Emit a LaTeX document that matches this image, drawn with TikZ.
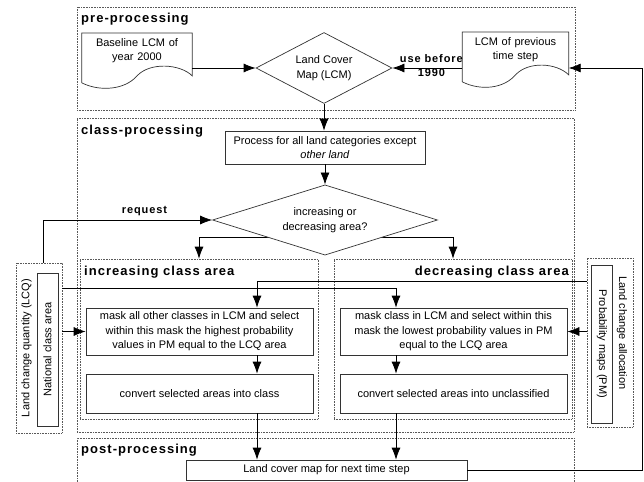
\documentclass[tikz,border=0pt]{standalone}
\usepackage{fontspec}
\setmainfont{Liberation Sans}
\newfontfamily\headfont[LetterSpace=8]{Liberation Sans}
\usetikzlibrary{arrows.meta,shapes.geometric,backgrounds}
\tikzset{>={Latex[length=12pt,width=9pt]}}
\tikzstyle{group} = [rectangle, draw=black!65, densely dotted, line width=0.6pt, inner sep=0pt]
\tikzstyle{heading} = [font=\headfont\bfseries\fontsize{13}{15}\selectfont, inner sep=0pt]
\tikzstyle{note} = [font=\headfont\bfseries\fontsize{11}{14}\selectfont, inner sep=0pt, align=center]
\tikzstyle{doc} = [rectangle, text width=104pt, inner xsep=3pt, inner ysep=5pt, align=center, anchor=north, text depth=31.5pt]
\tikzstyle{decision} = [diamond, draw=black!80, fill=white, aspect=2, inner sep=1pt, align=center, line width=0.7pt]
\tikzstyle{process} = [rectangle, draw=black!80, fill=white, align=center, inner sep=2pt, line width=0.7pt]
\tikzstyle{sidebox} = [rectangle, draw=black!80, minimum height=21pt, inner sep=1pt, line width=0.7pt]
\tikzstyle{arrow} = [->, line width=0.7pt]

\newcommand{\docoutline}[1]{%
  \draw[line width=0.7pt, draw=black!80] (#1.south west) -- (#1.north west) -- (#1.north east)
    -- ([yshift=7pt]#1.south east) .. controls +(-12,-12) and +(13,-14) .. ([yshift=7pt]#1.south)
    .. controls +(-12,14) and +(18,9) .. (#1.south west);}

\begin{document}
\begin{tikzpicture}[x=1pt, y=-1pt, font=\fontsize{11}{14.5}\selectfont]
\useasboundingbox (0,0) rectangle (644,481);
\clip (0,0) rectangle (644,481);

% processing stages
\node (pregrp) [group, minimum width=498pt, minimum height=103pt] at (326,58.5) {};
\node (classgrp) [group, minimum width=497pt, minimum height=314pt] at (325.5,275) {};
\node (postgrp) [group, minimum width=497pt, minimum height=62pt] at (325.5,469) {};
\node (incgrp) [group, minimum width=238pt, minimum height=160pt] at (199,339) {};
\node (decgrp) [group, minimum width=238pt, minimum height=160pt] at (453,339) {};
\node (lcqbox) [group, minimum width=46pt, minimum height=170pt] at (39,348) {};
\node (pmbox) [group, minimum width=46pt, minimum height=169pt] at (610,342.5) {};

\node (pretitle) [heading, anchor=west] at (81,19) {pre-processing};
\node (classtitle) [heading, anchor=west] at (81,131) {class-processing};
\node (inctitle) [heading, anchor=west] at (84,272) {increasing class area};
\node (dectitle) [heading, anchor=east] at (569,272) {decreasing class area};
\node (posttitle) [heading, anchor=west] at (81,450) {post-processing};

% pre-processing
\node (base) [doc] at (137,33) {Baseline LCM of\\year 2000};
\node (prev) [doc, text width=100pt] at (515.5,32) {LCM of previous\\time step};
\docoutline{base}
\docoutline{prev}
\node (lcm) [decision, minimum width=136pt, minimum height=71pt] at (324,68) {Land Cover\\Map (LCM)};

% class-processing
\node (proc) [process, minimum width=200pt, minimum height=33pt] at (325,147.5) {Process for all land categories except\\\textit{other land}};
\node (choice) [decision, minimum width=225pt, minimum height=68pt] at (325,220) {increasing or\\decreasing area?};

\node (incmask) [process, minimum width=227pt, minimum height=47pt] at (199.5,331.5) {mask all other classes in LCM and select\\within this mask the highest probability\\values in PM equal to the LCQ area};
\node (inconv) [process, minimum width=227pt, minimum height=39pt] at (199.5,393.5) {convert selected areas into class};
\node (decmask) [process, minimum width=227pt, minimum height=47pt] at (453.5,331.5) {mask class in LCM and select within this\\mask the lowest probability values in PM\\equal to the LCQ area};
\node (decconv) [process, minimum width=227pt, minimum height=39pt] at (453.5,393.5) {convert selected areas into unclassified};

% side inputs
\node (lcq) [rotate=90, inner sep=0pt] at (26.5,348) {Land change quantity (LCQ)};
\node (nat) [sidebox, rotate=90, minimum width=153pt] at (47.5,349.5) {National class area};
\node (pm) [sidebox, rotate=-90, minimum width=158pt] at (602,344) {Probability maps (PM)};
\node (alloc) [rotate=-90, inner sep=0pt] at (622,333) {Land change allocation};

% post-processing
\node (nextlcm) [process, minimum width=281pt, minimum height=20pt] at (326.5,470) {Land cover map for next time step};

% connectors
\draw [arrow] (base.east |- lcm) -- (lcm.west);
\draw [arrow] (prev.west |- lcm) -- node[note, xshift=4pt, yshift=2pt] (usenote) {use before\\1990} (lcm.east);
\draw [arrow] (lcm.south) -- (lcm.south |- proc.north);
\draw [arrow] (proc.south) -- (choice.north);
\coordinate (fork) at (325,237);
\begin{scope}[on background layer]
\draw [arrow] (fork) -| (incgrp.north);
\draw [arrow] (fork) -| (decgrp.north);
\end{scope}
\draw [arrow] ([xshift=4pt]lcqbox.north) |- node[note, pos=0.8, above=4pt] (reqnote) {request} (choice.west);
\draw [arrow] (lcqbox.east |- incmask) -- (incmask.west);
\draw [arrow] ([yshift=60pt]lcqbox.east) -| ([xshift=-57.5pt]decmask.north);
\draw [arrow] ([yshift=61.5pt]pmbox.west) -| ([xshift=57.5pt]incmask.north);
\draw [arrow] (pmbox.west |- decmask) -- (decmask.east);
\draw [arrow] ([xshift=57.5pt]incmask.south) -- ([xshift=57.5pt]inconv.north);
\draw [arrow] ([xshift=-57.5pt]decmask.south) -- ([xshift=-57.5pt]decconv.north);
\draw [arrow] ([xshift=57.5pt]inconv.south) -- ([xshift=57.5pt]inconv.south |- nextlcm.north);
\draw [arrow] ([xshift=-57.5pt]decconv.south) -- ([xshift=-57.5pt]decconv.south |- nextlcm.north);
\draw [arrow] (nextlcm.east) -- ++(175,0) |- (prev.east |- lcm);

\end{tikzpicture}
\end{document}
